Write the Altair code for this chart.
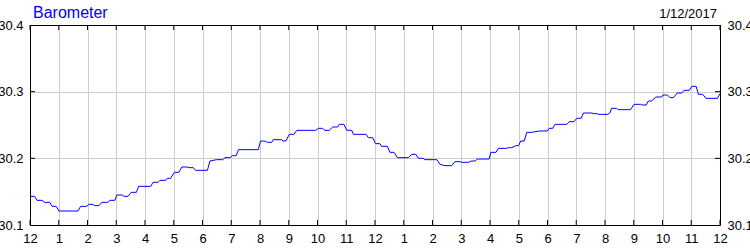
import altair as alt
import pandas as pd

# ---- data (hours since midnight, barometric pressure inHg) ----
hours = [0.00, 0.16, 0.24, 0.42, 0.51, 0.69, 0.77, 0.91, 1.01, 1.67, 1.76, 1.96, 2.05, 2.19,
         2.25, 2.40, 2.50, 2.71, 2.78, 2.95, 3.02, 3.21, 3.27, 3.41, 3.52, 3.70, 3.78, 4.20,
         4.28, 4.45, 4.52, 4.72, 4.77, 4.89, 5.02, 5.18, 5.28, 5.47, 5.53, 5.68, 5.76, 6.17,
         6.26, 6.49, 6.70, 6.78, 6.96, 7.03, 7.17, 7.25, 7.94, 8.02, 8.17, 8.25, 8.41, 8.46,
         8.75, 8.80, 8.90, 9.02, 9.18, 9.28, 9.94, 10.03, 10.17, 10.26, 10.41, 10.53, 10.70,
         10.76, 10.92, 11.02, 11.19, 11.25, 11.69, 11.77, 11.92, 12.02, 12.17, 12.23, 12.43,
         12.52, 12.66, 12.78, 13.16, 13.28, 13.42, 13.51, 13.68, 13.74, 14.15, 14.26, 14.43,
         14.67, 14.78, 14.96, 15.02, 15.25, 15.36, 15.48, 15.56, 15.97, 16.03, 16.21, 16.29,
         16.58, 16.64, 16.75, 16.90, 16.99, 17.07, 17.19, 17.28, 17.45, 17.71, 17.99, 18.06,
         18.18, 18.26, 18.67, 18.76, 18.92, 19.02, 19.17, 19.25, 19.54, 19.62, 19.73, 19.76,
         20.10, 20.17, 20.23, 20.41, 20.45, 20.89, 21.01, 21.24, 21.29, 21.43, 21.51, 21.62,
         21.77, 21.97, 22.02, 22.17, 22.26, 22.38, 22.51, 22.67, 22.75, 22.93, 23.02, 23.17,
         23.25, 23.40, 23.51, 23.91, 24.00]
pressure = [30.143, 30.143, 30.137, 30.137, 30.134, 30.134, 30.128, 30.128, 30.121, 30.121,
            30.128, 30.128, 30.131, 30.131, 30.129, 30.129, 30.134, 30.134, 30.137, 30.137,
            30.145, 30.145, 30.143, 30.143, 30.149, 30.149, 30.158, 30.158, 30.164, 30.164,
            30.167, 30.167, 30.170, 30.170, 30.179, 30.179, 30.187, 30.187, 30.186, 30.186,
            30.182, 30.182, 30.196, 30.198, 30.198, 30.201, 30.201, 30.204, 30.204, 30.213,
            30.213, 30.226, 30.226, 30.224, 30.224, 30.228, 30.228, 30.226, 30.226, 30.236,
            30.236, 30.242, 30.242, 30.245, 30.245, 30.242, 30.242, 30.247, 30.247, 30.251,
            30.251, 30.242, 30.242, 30.236, 30.236, 30.231, 30.231, 30.222, 30.222, 30.218,
            30.218, 30.209, 30.209, 30.201, 30.201, 30.206, 30.206, 30.200, 30.200, 30.198,
            30.198, 30.191, 30.189, 30.189, 30.195, 30.195, 30.194, 30.194, 30.196, 30.196,
            30.199, 30.199, 30.209, 30.209, 30.215, 30.215, 30.216, 30.216, 30.219, 30.219,
            30.226, 30.226, 30.239, 30.239, 30.241, 30.241, 30.245, 30.245, 30.251, 30.251,
            30.255, 30.255, 30.260, 30.260, 30.268, 30.268, 30.267, 30.267, 30.266, 30.266,
            30.268, 30.275, 30.275, 30.273, 30.273, 30.281, 30.281, 30.280, 30.280, 30.286,
            30.286, 30.292, 30.292, 30.295, 30.295, 30.291, 30.291, 30.298, 30.298, 30.302,
            30.302, 30.308, 30.308, 30.296, 30.296, 30.290, 30.290, 30.297]

x_ticks = list(range(25))
y_ticks = [30.1, 30.2, 30.3, 30.4]
title_text = "Barometer"
date_text = "1/12/2017"

FONT = "Liberation Sans"
GRID = "#cdcdcd"

df = pd.DataFrame({"h": hours, "p": pressure})
xt = pd.DataFrame({"t": x_ticks})
yt = pd.DataFrame({"v": y_ticks[1:-1]})
one = pd.DataFrame({"a": [0]})

xscale = alt.Scale(domain=[0, 24], nice=False, zero=False)
yscale = alt.Scale(domain=[30.1, 30.4], nice=False, zero=False)

line = alt.Chart(df).mark_line(color="#0000ff", strokeWidth=1).encode(
    x=alt.X("h:Q", scale=xscale, title=None,
            axis=alt.Axis(values=x_ticks, labelExpr="((datum.value + 11) % 12) + 1",
                          grid=True, gridColor=GRID, ticks=False, tickSize=0, domain=False,
                          labelPadding=7, labelFontSize=13, labelFont=FONT, labelColor="black",
                          labelFlush=False, labelOverlap=False)),
    y=alt.Y("p:Q", scale=yscale, title=None,
            axis=alt.Axis(values=y_ticks, format=".1f", grid=True, gridColor=GRID,
                          ticks=False, tickSize=0, domain=False, labelPadding=7,
                          labelFontSize=13, labelFont=FONT, labelColor="black",
                          labelFlush=False, labelOverlap=False)),
)

top_ticks = alt.Chart(xt).mark_rule(color="black").encode(
    x=alt.X("t:Q", scale=xscale, axis=None), y=alt.value(0), y2=alt.value(5))
bottom_ticks = alt.Chart(xt).mark_rule(color="black").encode(
    x=alt.X("t:Q", scale=xscale, axis=None), y=alt.value(195), y2=alt.value(200))
left_ticks = alt.Chart(yt).mark_rule(color="black").encode(
    y=alt.Y("v:Q", scale=yscale, axis=None), x=alt.value(0), x2=alt.value(5))
right_ticks = alt.Chart(yt).mark_rule(color="black").encode(
    y=alt.Y("v:Q", scale=yscale, title=None,
            axis=alt.Axis(orient="right", values=y_ticks, format=".1f", grid=False,
                          ticks=False, tickSize=0, domain=False, labelPadding=7,
                          labelFontSize=13, labelFont=FONT, labelColor="black",
                          labelFlush=False, labelOverlap=False)),
    x=alt.value(685), x2=alt.value(690))

frame_top = alt.Chart(one).mark_rule(color="black").encode(
    x=alt.value(0), x2=alt.value(690.5), y=alt.value(0.5))
frame_bottom = alt.Chart(one).mark_rule(color="black").encode(
    x=alt.value(0), x2=alt.value(690.5), y=alt.value(200.5))
frame_left = alt.Chart(one).mark_rule(color="black").encode(
    x=alt.value(0.5), y=alt.value(0), y2=alt.value(200.5))
frame_right = alt.Chart(one).mark_rule(color="black").encode(
    x=alt.value(690.5), y=alt.value(0), y2=alt.value(200.5))

title = alt.Chart(pd.DataFrame({"s": [title_text]})).mark_text(
    align="left", baseline="alphabetic", fontSize=16, font=FONT, color="#0000ff"
).encode(text="s:N", x=alt.value(3), y=alt.value(-7))
date = alt.Chart(pd.DataFrame({"s": [date_text]})).mark_text(
    align="right", baseline="alphabetic", fontSize=13, font=FONT, color="black"
).encode(text="s:N", x=alt.value(687), y=alt.value(-7))

chart = alt.layer(
    line, top_ticks, bottom_ticks, left_ticks, right_ticks,
    frame_top, frame_bottom, frame_left, frame_right, title, date
).resolve_axis(x="independent", y="independent").properties(
    width=690, height=200,
    autosize=alt.AutoSizeParams(type="none"),
    padding={"left": 30, "top": 25, "right": 30, "bottom": 25},
    background="white",
).configure_view(stroke=None)

chart.save("out.html", embed_options={"renderer": "svg", "actions": False})
